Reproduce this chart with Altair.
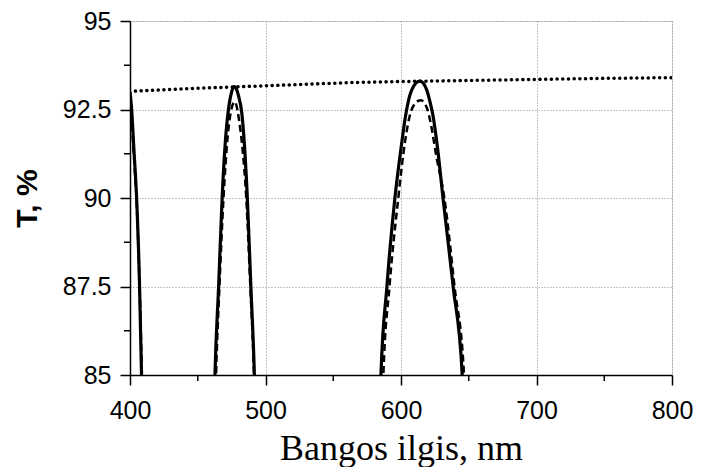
import altair as alt
import pandas as pd

# Solid curve (three transmission peaks)
solid_x = [400, 401, 403, 405, 407, 408.5, 409.5,
           461.8, 462.7, 465.4, 468.0, 471.0, 473.0, 475.0, 476.3, 477.3, 478.5, 480.0, 482.5, 486.6, 489.2, 491.8, 492.8,
           584.0, 585.2, 589.6, 595.5, 600.0, 603.5, 606.5, 609.5, 612.0, 614.0, 616.5, 619.0, 621.5, 623.5, 627.0, 631.0, 638.5, 645.2, 646.4]
solid_y = [93.0, 92.6, 91.3, 89.9, 87.6, 85.0, 83.5,
           83.5, 85.0, 87.5, 90.0, 91.9, 92.6, 93.0, 93.13, 93.15, 93.08, 92.9, 92.4, 90.0, 87.5, 85.0, 83.5,
           83.5, 85.0, 87.5, 90.0, 91.4, 92.35, 92.9, 93.17, 93.28, 93.3, 93.24, 93.05, 92.7, 92.35, 91.4, 90.0, 87.5, 85.0, 83.5]
solid_seg = [1] * 7 + [2] * 16 + [3] * 19

# Dashed curve
dashed_x = [400, 401, 403, 405, 407, 408.8, 409.8,
            462.5, 463.5, 466.0, 469.0, 472.0, 474.5, 476.2, 477.3, 478.5, 480.5, 483.0, 485.8, 488.8, 491.5, 492.5,
            585.8, 587.0, 591.5, 598.0, 603.0, 607.0, 610.0, 612.5, 614.8, 617.0, 619.5, 622.0, 626.0, 632.0, 639.5, 646.5, 647.6]
dashed_y = [92.7, 92.3, 91.1, 89.8, 87.6, 85.0, 83.5,
            83.5, 85.0, 87.5, 90.0, 91.7, 92.45, 92.68, 92.72, 92.62, 92.2, 91.4, 90.0, 87.5, 85.0, 83.5,
            83.5, 85.0, 87.5, 90.0, 91.6, 92.4, 92.65, 92.74, 92.76, 92.7, 92.5, 92.1, 91.2, 90.0, 87.5, 85.0, 83.5]
dashed_seg = [1] * 7 + [2] * 15 + [3] * 17

# Dotted curve
dotted_x = [404, 450, 500, 563, 600, 650, 700, 750, 800]
dotted_y = [93.02, 93.1, 93.17, 93.26, 93.29, 93.32, 93.35, 93.38, 93.4]

x_ticks = [400, 500, 600, 700, 800]
y_ticks = [85, 87.5, 90, 92.5, 95]
x_minor = [450, 550, 650, 750]
y_minor = [86.25, 88.75, 91.25, 93.75]

W, H = 542, 354

df_solid = pd.DataFrame({"x": solid_x, "y": solid_y, "seg": solid_seg})
df_dashed = pd.DataFrame({"x": dashed_x, "y": dashed_y, "seg": dashed_seg})
df_dotted = pd.DataFrame({"x": dotted_x, "y": dotted_y})

xscale = alt.Scale(domain=[400, 800], nice=False, zero=False)
yscale = alt.Scale(domain=[85, 95], nice=False, zero=False)

xaxis = alt.Axis(values=x_ticks, title="Bangos ilgis, nm", grid=True,
                 gridDash=[1, 2], gridColor="#888888", gridWidth=1,
                 domainColor="black", domainWidth=1.5, tickColor="black", tickWidth=1.5,
                 tickSize=10, labelFont="Liberation Sans", labelFontSize=25,
                 labelColor="black", labelPadding=13, labelFlush=False,
                 titleFont="Liberation Serif", titleFontSize=36, titleFontWeight="normal",
                 titleColor="black", titlePadding=8)
yaxis = alt.Axis(values=y_ticks, title="T, %", format=".1~f", grid=True,
                 gridDash=[1, 2], gridColor="#888888", gridWidth=1,
                 domainColor="black", domainWidth=1.5, tickColor="black", tickWidth=1.5,
                 tickSize=10, labelFont="Liberation Sans", labelFontSize=25,
                 labelColor="black", labelPadding=9, labelFlush=False,
                 titleFont="Liberation Sans", titleFontSize=30, titleFontWeight="bold",
                 titleColor="black", titlePadding=20)

solid = alt.Chart(df_solid).mark_line(color="black", strokeWidth=3.2, clip=True,
                                      interpolate="monotone").encode(
    x=alt.X("x:Q", scale=xscale, axis=xaxis),
    y=alt.Y("y:Q", scale=yscale, axis=yaxis),
    detail="seg:N",
)
dashed = alt.Chart(df_dashed).mark_line(color="black", strokeWidth=2.5, strokeDash=[7, 4], clip=True,
                                        interpolate="monotone").encode(
    x=alt.X("x:Q", scale=xscale),
    y=alt.Y("y:Q", scale=yscale),
    detail="seg:N",
)
dotted = alt.Chart(df_dotted).mark_line(color="black", strokeWidth=3.5, strokeDash=[0.1, 5.6],
                                       strokeCap="round", clip=True).encode(
    x=alt.X("x:Q", scale=xscale),
    y=alt.Y("y:Q", scale=yscale),
)

xm = alt.Chart(pd.DataFrame({"x": x_minor})).mark_rule(color="black", strokeWidth=1.5).encode(
    x=alt.X("x:Q", scale=xscale),
    y=alt.value(H),
    y2=alt.value(H + 6),
)
ym = alt.Chart(pd.DataFrame({"y": y_minor})).mark_rule(color="black", strokeWidth=1.5).encode(
    y=alt.Y("y:Q", scale=yscale),
    x=alt.value(-6),
    x2=alt.value(0),
)

chart = alt.layer(solid, dashed, dotted, xm, ym).properties(
    width=W, height=H,
    autosize=alt.AutoSizeParams(type="none"),
    padding={"left": 122, "top": 13, "right": 21, "bottom": 92},
).configure_view(stroke=None).configure(background="white")

chart.save("out.html", embed_options={"renderer": "svg", "actions": False})
